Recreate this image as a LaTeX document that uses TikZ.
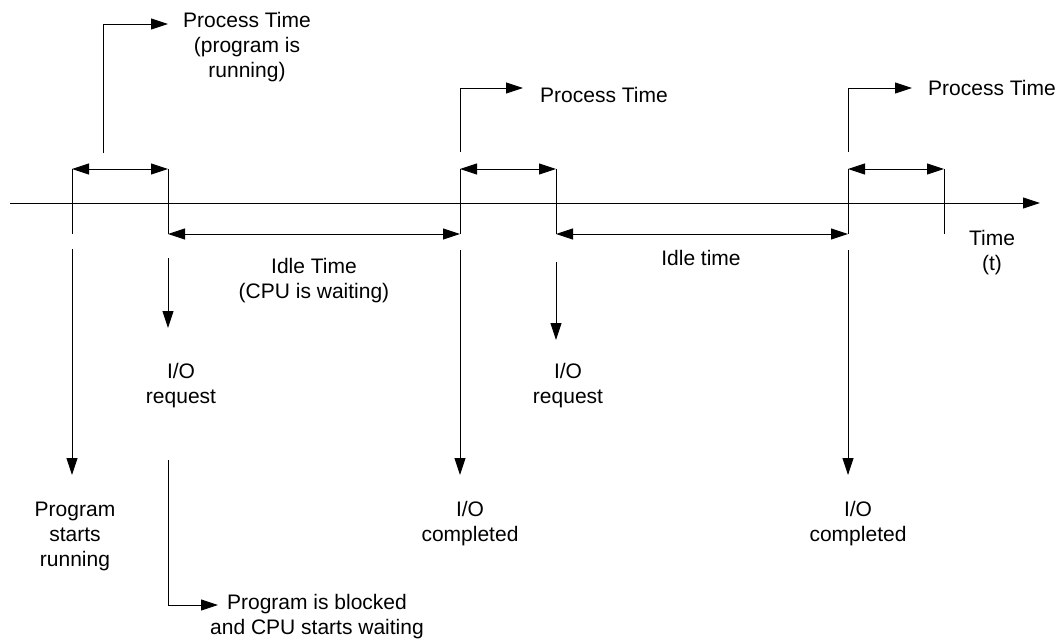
\documentclass[tikz,border=0pt]{standalone}
\usepackage{fontspec}
\setmainfont{Liberation Sans}
\usetikzlibrary{arrows.meta}
\begin{document}
\begin{tikzpicture}[x=1pt,y=-1pt,line width=0.9pt,
  tipped/.style={-{Triangle[length=17pt,width=11pt]}},
  span/.style={{Triangle[length=17pt,width=11pt]}-{Triangle[length=17pt,width=11pt]}},
  lbl/.style={align=center,font=\fontsize{21}{25}\selectfont,inner sep=0pt}]
\useasboundingbox (0,0) rectangle (1064,642);

% time axis
\coordinate (axS) at (10,203);
\coordinate (axE) at (1040,203);
\draw[tipped] (axS) -- (axE);

% event instants: top and bottom end of each tick
\foreach \n/\x in {0/72,1/168,2/460,3/556,4/848,5/944}{
  \coordinate (t\n) at (\x,169);
  \coordinate (b\n) at (\x,234);
  \draw (t\n) -- (b\n);
}

% process-time spans and idle-time spans
\draw[span] (t0) -- (t1);
\draw[span] (t2) -- (t3);
\draw[span] (t4) -- (t5);
\draw[span] (b1) -- (b2);
\draw[span] (b3) -- (b4);

% process-time callouts
\coordinate (c1s) at (103,153);
\coordinate (c1e) at (168,24);
\draw[tipped] (c1s) |- (c1e);
\node[lbl] (pt1) at (247,47) {Process Time\\(program is\\running)};

\coordinate (c2s) at (460,152);
\coordinate (c2e) at (523,88);
\draw[tipped] (c2s) |- (c2e);
\node[lbl] (pt2) at (604,95) {Process Time};

\coordinate (c3s) at (848,152);
\coordinate (c3e) at (912,88);
\draw[tipped] (c3s) |- (c3e);
\node[lbl] (pt3) at (992,88) {Process Time};

% axis label
\node[lbl] (tl) at (992,253) {Time\\(t)};

% idle-time labels
\node[lbl] (id1) at (314,281) {Idle Time\\(CPU is waiting)};
\node[lbl] (id2) at (701,258) {Idle time};

% I/O requests
\coordinate (r1s) at (168,258);
\coordinate (r1e) at (168,328);
\draw[tipped] (r1s) -- (r1e);
\node[lbl] (rq1) at (181,386) {I/O\\request};

\coordinate (r2s) at (556,262);
\coordinate (r2e) at (556,340);
\draw[tipped] (r2s) -- (r2e);
\node[lbl] (rq2) at (568,386) {I/O\\request};

% program start and I/O completions
\coordinate (s0s) at (72,249);
\coordinate (s0e) at (72,475);
\draw[tipped] (s0s) -- (s0e);
\node[lbl] (ps) at (75,536) {Program\\starts\\running};

\coordinate (d1s) at (460,250);
\coordinate (d1e) at (460,475);
\draw[tipped] (d1s) -- (d1e);
\node[lbl] (ioc1) at (470,524) {I/O\\completed};

\coordinate (d2s) at (848,250);
\coordinate (d2e) at (848,475);
\draw[tipped] (d2s) -- (d2e);
\node[lbl] (ioc2) at (858,524) {I/O\\completed};

% blocked callout
\coordinate (bls) at (168,460);
\coordinate (ble) at (218,605);
\draw[tipped] (bls) |- (ble);
\node[lbl] (blk) at (317,617) {Program is blocked\\and CPU starts waiting};
\end{tikzpicture}
\end{document}
